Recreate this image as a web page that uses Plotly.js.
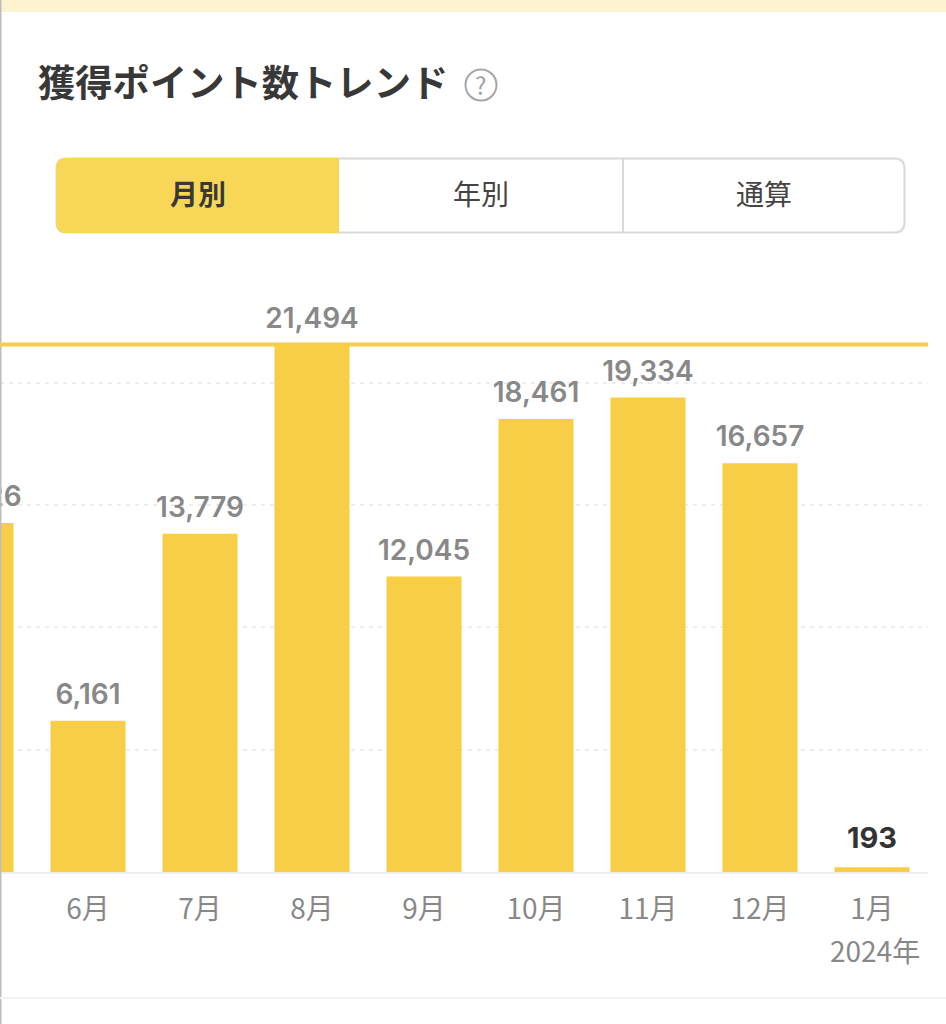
<!DOCTYPE html>
<html><head><meta charset="utf-8">
<script src="https://cdn.plot.ly/plotly-3.0.1.min.js"></script>
<style>html,body{margin:0;padding:0;background:#fff}#c{width:946px;height:1024px}</style>
</head><body><div id="c"></div>
<script>
const months = ['5月','6月','7月','8月','9月','10月','11月','12月','1月'];
const points = [14226,6161,13779,21494,12045,18461,19334,16657,193];
const gridValues = [4984,9968,14952,19936];
const yearLabel = '2024年';
const titleText = '獲得ポイント数トレンド';
const tabs = ['月別','年別','通算'];

const W=946,H=1024,mL=0,mR=18,mT=300,mB=152;
const yellow='#F8CE46';
const px=x=>(x-mL)/(W-mL-mR), py=y=>1-(y-mT)/(H-mT-mB);
const cjk='"Noto Sans CJK JP"';
const isLast=i=>i===points.length-1;
const rectP=(x0,y0,x1,y1,fill,line,w)=>({type:'rect',xref:'paper',yref:'paper',x0:px(x0),x1:px(x1),y0:py(y0),y1:py(y1),fillcolor:fill,line:{color:line||fill,width:w||0},layer:'above'});
function round(x0,y0,x1,y1,rl,rr){
  const X=px,Y=py;
  return `M${X(x0+rl)},${Y(y0)} L${X(x1-rr)},${Y(y0)} Q${X(x1)},${Y(y0)} ${X(x1)},${Y(y0+rr)} L${X(x1)},${Y(y1-rr)} Q${X(x1)},${Y(y1)} ${X(x1-rr)},${Y(y1)} L${X(x0+rl)},${Y(y1)} Q${X(x0)},${Y(y1)} ${X(x0)},${Y(y1-rl)} L${X(x0)},${Y(y0+rl)} Q${X(x0)},${Y(y0)} ${X(x0+rl)},${Y(y0)} Z`;
}
const shapes=[
  rectP(0,0,W,12,'#FDF4CF'),
  rectP(0,0,1.5,H,'#BDBDBD'),
  {type:'line',xref:'paper',yref:'paper',x0:px(0),x1:px(W),y0:py(998),y1:py(998),line:{color:'#F3F3F3',width:2},layer:'above'},
  {type:'path',xref:'paper',yref:'paper',path:round(56.5,158.5,904.5,232.5,10,10),fillcolor:'#FFFFFF',line:{color:'#D9D9D9',width:2},layer:'above'},
  {type:'path',xref:'paper',yref:'paper',path:round(56,158,339,233,10,0),fillcolor:'#F8D757',line:{width:0},layer:'above'},
  {type:'line',xref:'paper',yref:'paper',x0:px(623),x1:px(623),y0:py(158),y1:py(232),line:{color:'#D9D9D9',width:2},layer:'above'},
  {type:'circle',xref:'paper',yref:'paper',x0:px(465.5),x1:px(496.5),y0:py(69.5),y1:py(100.5),fillcolor:'rgba(0,0,0,0)',line:{color:'#A6A6A6',width:2},layer:'above'},
  {type:'line',xref:'x',yref:'y',x0:0.214,x1:8.5,y0:Math.max(...points),y1:Math.max(...points),line:{color:yellow,width:4},layer:'above'}
];
const note=(text,x,y,size,color,weight,anchor)=>({text,xref:'paper',yref:'paper',x:px(x),y:py(y),xanchor:anchor||'center',yanchor:'middle',showarrow:false,font:{family:cjk,size,color,weight:weight||400}});
const annotations=[
  note(titleText,35.5,81,37.3,'#383838',700,'left'),
  note('?',481,84.5,24,'#A0A0A0',400),
  note(tabs[0],198,193.5,28,'#383838',700),
  note(tabs[1],481,193.5,28,'#444444',400),
  note(tabs[2],764,193.5,28,'#444444',400),
  {text:yearLabel,xref:'x',yref:'paper',x:8,xshift:3,y:py(949.5),xanchor:'center',yanchor:'middle',showarrow:false,font:{family:cjk,size:28,color:'#888888'}}
];
const bars={type:'bar',x:months,y:points,width:0.67,marker:{color:yellow,line:{width:0}},hoverinfo:'skip'};
const labels={type:'scatter',mode:'markers+text',x:months,y:points,cliponaxis:true,
  marker:{size:points.map((v,i)=>isLast(i)?18:14),color:'rgba(0,0,0,0)',line:{width:0}},
  text:points.map(v=>v.toLocaleString('en-US')),textposition:'top center',
  textfont:{family:'Inter',size:points.map((v,i)=>isLast(i)?29:28),color:points.map((v,i)=>isLast(i)?'#333333':'#888888'),weight:points.map((v,i)=>isLast(i)?700:600)},hoverinfo:'skip'};
const layout={width:W,height:H,margin:{l:mL,r:mR,t:mT,b:mB,pad:0},paper_bgcolor:'#fff',plot_bgcolor:'#fff',showlegend:false,
  xaxis:{type:'category',categoryorder:'array',categoryarray:months,range:[0.214,8.5],fixedrange:true,showgrid:false,zeroline:false,
    showline:true,linecolor:'#EEEEEE',linewidth:2,ticks:'outside',ticklen:11,tickcolor:'rgba(0,0,0,0)',tickfont:{family:cjk,size:28,color:'#888888'}},
  yaxis:{range:[0,(872-300)/0.02454],fixedrange:true,tickmode:'array',tickvals:gridValues,showticklabels:false,ticks:'',zeroline:false,showline:false,
    showgrid:true,gridcolor:'#EDEDED',gridwidth:2,griddash:'4px,5px'},
  shapes,annotations};
Plotly.newPlot('c',[bars,labels],layout,{displayModeBar:false,staticPlot:true});
</script></body></html>
